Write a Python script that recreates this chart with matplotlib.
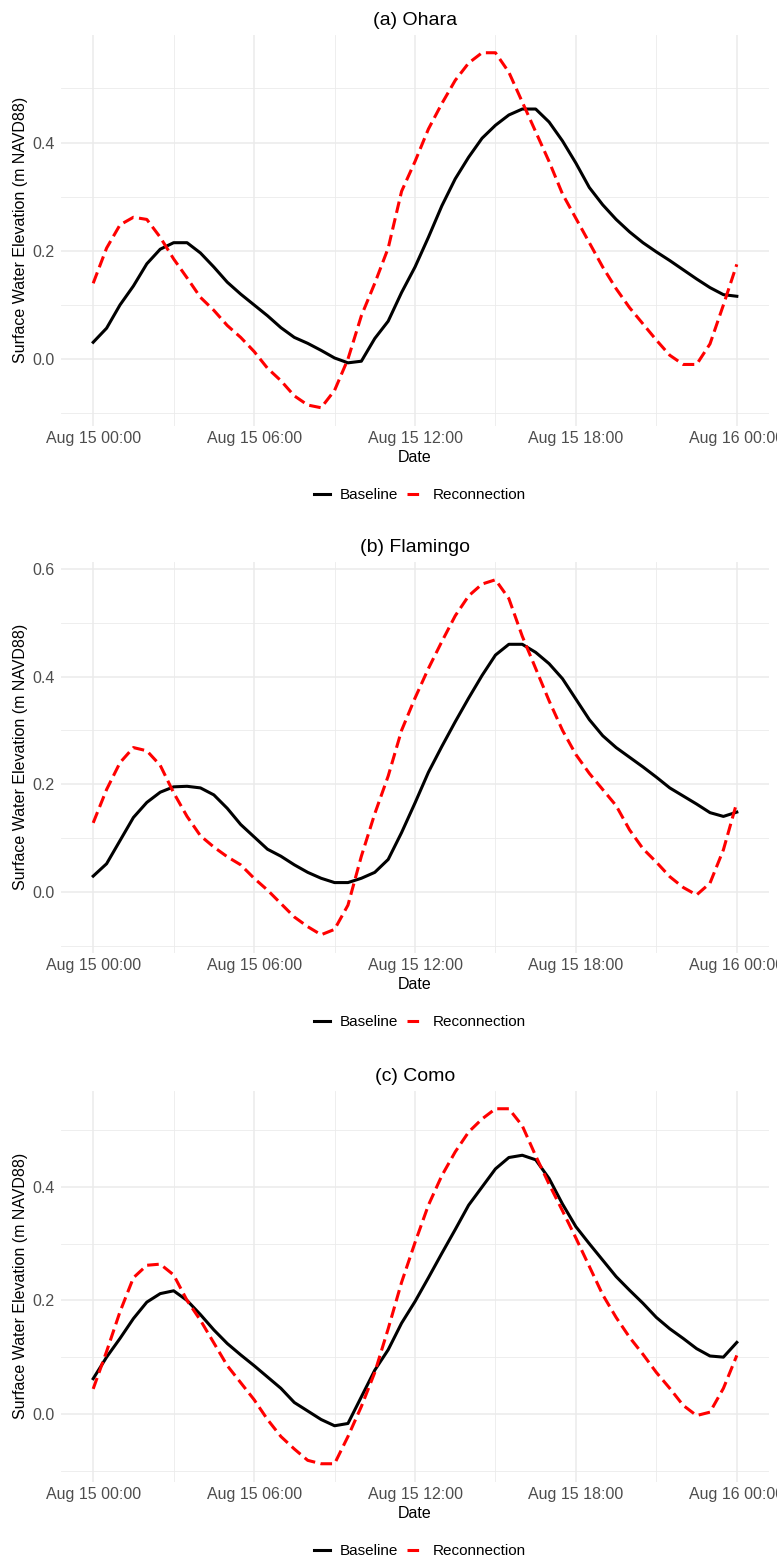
import numpy as np
import pandas as pd
import matplotlib
matplotlib.use("Agg")
import matplotlib.pyplot as plt
import matplotlib.dates as mdates
from matplotlib.ticker import MultipleLocator, FormatStrFormatter

plt.rcParams['font.family'] = ['Liberation Sans', 'DejaVu Sans']

# half-hourly timestamps, Aug 15 00:00 -> Aug 16 00:00
times = pd.date_range("2021-08-15 00:00", "2021-08-16 00:00", freq="30min")

# (a) Ohara
ohara_base = [0.031, 0.057, 0.100, 0.135, 0.176, 0.203, 0.215, 0.215, 0.196, 0.170,
              0.142, 0.120, 0.100, 0.080, 0.058, 0.040, 0.029, 0.016, 0.002, -0.007,
              -0.004, 0.038, 0.070, 0.123, 0.170, 0.225, 0.283, 0.333, 0.373, 0.408,
              0.432, 0.451, 0.462, 0.462, 0.438, 0.403, 0.362, 0.317, 0.285, 0.258,
              0.235, 0.215, 0.198, 0.182, 0.165, 0.148, 0.132, 0.119, 0.116]
ohara_recon = [0.140, 0.205, 0.248, 0.262, 0.258, 0.225, 0.185, 0.150, 0.114, 0.090,
               0.062, 0.040, 0.014, -0.017, -0.040, -0.068, -0.085, -0.090, -0.058, 0.000,
               0.080, 0.140, 0.205, 0.310, 0.365, 0.425, 0.472, 0.515, 0.547, 0.566,
               0.566, 0.530, 0.475, 0.420, 0.365, 0.305, 0.260, 0.215, 0.170, 0.130,
               0.095, 0.065, 0.035, 0.007, -0.010, -0.010, 0.028, 0.100, 0.175]

# (b) Flamingo
flamingo_base = [0.029, 0.052, 0.095, 0.138, 0.166, 0.185, 0.195, 0.196, 0.193, 0.180,
                 0.155, 0.125, 0.102, 0.079, 0.066, 0.050, 0.036, 0.025, 0.017, 0.017,
                 0.025, 0.036, 0.060, 0.110, 0.165, 0.222, 0.270, 0.316, 0.360, 0.402,
                 0.440, 0.460, 0.460, 0.445, 0.424, 0.396, 0.358, 0.320, 0.290, 0.268,
                 0.250, 0.232, 0.213, 0.193, 0.178, 0.163, 0.147, 0.140, 0.148]
flamingo_recon = [0.128, 0.190, 0.240, 0.268, 0.262, 0.235, 0.184, 0.140, 0.104, 0.083,
                  0.065, 0.050, 0.025, 0.003, -0.022, -0.047, -0.065, -0.080, -0.070, -0.025,
                  0.066, 0.145, 0.215, 0.300, 0.360, 0.415, 0.465, 0.513, 0.550, 0.572,
                  0.580, 0.545, 0.475, 0.415, 0.355, 0.300, 0.255, 0.220, 0.190, 0.160,
                  0.115, 0.080, 0.055, 0.028, 0.008, -0.006, 0.016, 0.078, 0.166]

# (c) Como
como_base = [0.062, 0.100, 0.133, 0.168, 0.197, 0.212, 0.217, 0.200, 0.175, 0.148,
             0.124, 0.104, 0.085, 0.065, 0.045, 0.020, 0.005, -0.010, -0.021, -0.017,
             0.030, 0.077, 0.113, 0.160, 0.198, 0.240, 0.283, 0.325, 0.368, 0.400,
             0.432, 0.452, 0.456, 0.448, 0.415, 0.370, 0.330, 0.300, 0.271, 0.242,
             0.218, 0.195, 0.170, 0.150, 0.133, 0.115, 0.102, 0.100, 0.126]
como_recon = [0.044, 0.110, 0.180, 0.240, 0.262, 0.264, 0.245, 0.200, 0.165, 0.125,
              0.085, 0.055, 0.025, -0.010, -0.040, -0.062, -0.082, -0.088, -0.088, -0.040,
              0.013, 0.073, 0.150, 0.232, 0.302, 0.368, 0.420, 0.462, 0.497, 0.520,
              0.538, 0.538, 0.508, 0.455, 0.405, 0.358, 0.310, 0.260, 0.210, 0.170,
              0.135, 0.105, 0.073, 0.045, 0.015, -0.003, 0.003, 0.045, 0.103]

titles = ["(a) Ohara", "(b) Flamingo", "(c) Como"]
baselines = [ohara_base, flamingo_base, como_base]
reconnections = [ohara_recon, flamingo_recon, como_recon]

W, H = 777, 1559
fig = plt.figure(figsize=(W / 100, H / 100), dpi=100)

left, right = 61, 769
tops = [35, 562, 1091]
panel_h = 390.5

for i in range(3):
    top = tops[i]
    ax = fig.add_axes([left / W, (H - top - panel_h) / H, (right - left) / W, panel_h / H])

    ax.plot(times, baselines[i], color='black', lw=2.2, label='Baseline', zorder=3)
    ax.plot(times, reconnections[i], color='red', lw=2.2, dashes=(3.8, 1.8),
            label='Reconnection', zorder=3)

    ax.set_title(titles[i], fontsize=14, pad=7)
    ax.set_xlabel("Date", fontsize=11.5)
    ax.set_ylabel("Surface Water Elevation (m NAVD88)", fontsize=11.5)
    ax.xaxis.set_label_coords(0.5, -0.062)
    ax.yaxis.set_label_coords(-0.047, 0.5)

    ax.xaxis.set_major_locator(mdates.HourLocator(byhour=[0, 6, 12, 18]))
    ax.xaxis.set_minor_locator(mdates.HourLocator(byhour=[3, 9, 15, 21]))
    ax.xaxis.set_major_formatter(mdates.DateFormatter("%b %d %H:%M"))
    ax.yaxis.set_major_locator(MultipleLocator(0.2))
    ax.yaxis.set_minor_locator(MultipleLocator(0.1))
    ax.yaxis.set_major_formatter(FormatStrFormatter('%.1f'))

    ax.tick_params(which='both', length=0, labelsize=11.5, labelcolor='#4D4D4D')
    ax.tick_params(axis='x', pad=4)
    ax.tick_params(axis='y', pad=4.5)

    ax.grid(which='major', color='#EBEBEB', lw=1.1)
    ax.grid(which='minor', color='#EBEBEB', lw=0.6)
    ax.set_axisbelow(True)
    for s in ax.spines.values():
        s.set_visible(False)

    ax.legend(loc='center', bbox_to_anchor=(0.507, -0.178), ncol=2, frameon=False,
              fontsize=11, handlelength=1.1, handletextpad=0.6, columnspacing=0.6)

fig.savefig("out.png", dpi=100, facecolor='white')
